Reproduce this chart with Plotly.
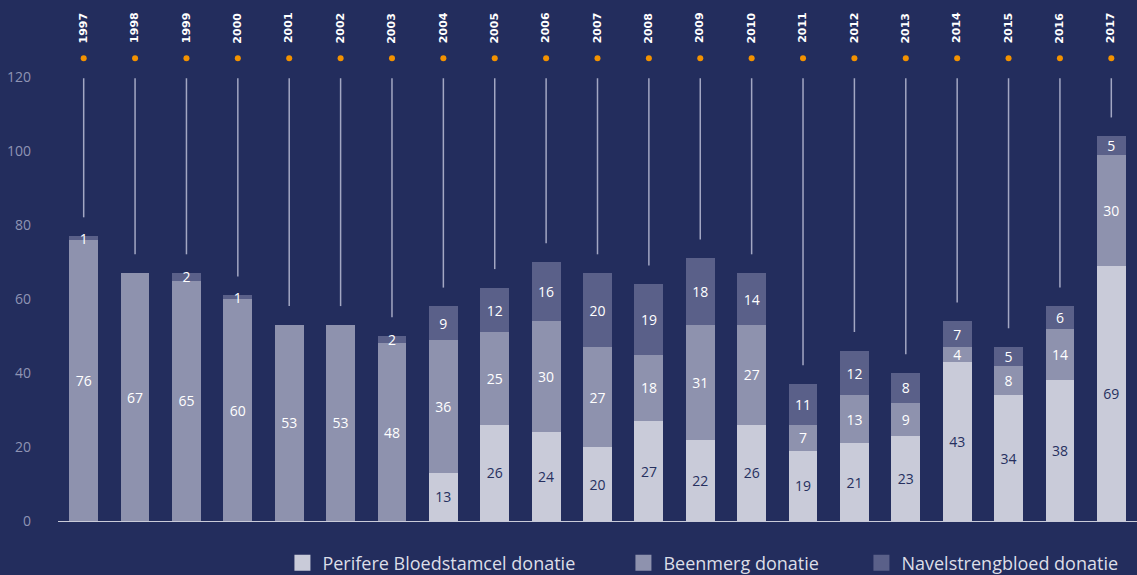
import plotly.graph_objects as go

years = [str(y) for y in range(1997, 2018)]
perifeer = [None, None, None, None, None, None, None, 13, 26, 24, 20, 27, 22, 26, 19, 21, 23, 43, 34, 38, 69]
beenmerg = [76, 67, 65, 60, 53, 53, 48, 36, 25, 30, 27, 18, 31, 27, 7, 13, 9, 4, 8, 14, 30]
navelstreng = [1, None, 2, 1, None, None, 2, 9, 12, 16, 20, 19, 18, 14, 11, 12, 8, 7, 5, 6, 5]

names = ["Perifere Bloedstamcel donatie", "Beenmerg donatie", "Navelstrengbloed donatie"]
colors = ["#c9cbd9", "#8e92ae", "#5a6089"]
label_colors = ["#26305f", "#ffffff", "#ffffff"]
legend_widths = [296, 193, 240]
bg = "#232d5d"

fig = go.Figure()

for name, vals, col, lcol in zip(names, [perifeer, beenmerg, navelstreng], colors, label_colors):
    fig.add_trace(
        go.Bar(
            x=years,
            y=vals,
            name=name,
            width=0.56,
            marker={"color": col, "line": {"width": 0}},
            text=[str(v) if v else "" for v in vals],
            textposition="inside",
            insidetextanchor="middle",
            textangle=0,
            textfont={"color": lcol, "size": 14, "family": "Open Sans"},
            showlegend=False,
        )
    )

# leader lines from the year markers down to just above each bar
totals = [sum(v or 0 for v in t) for t in zip(perifeer, beenmerg, navelstreng)]
lx, ly = [], []
for yr, tot in zip(years, totals):
    lx += [yr, yr, None]
    ly += [119.7, tot + 5.1, None]
fig.add_trace(go.Scatter(x=lx, y=ly, mode="lines", line={"color": "#a3a7c3", "width": 1.5},
                         showlegend=False, hoverinfo="skip"))

# orange dots
fig.add_trace(go.Scatter(x=years, y=[125.1] * len(years), mode="markers",
                         marker={"color": "#f39200", "size": 6}, showlegend=False,
                         hoverinfo="skip", cliponaxis=False))

# year labels (category index as x position)
for i, yr in enumerate(years):
    fig.add_annotation(x=i, y=128.6, text=f"<b>{yr}</b>", textangle=-90, showarrow=False,
                       xanchor="center", yanchor="bottom",
                       font={"family": "DejaVu Sans", "size": 11, "color": "#ffffff"})

# legend entries
for name, col, lw in zip(names, colors, legend_widths):
    fig.add_trace(go.Scatter(x=[None], y=[None], mode="markers", name=name, legendwidth=lw,
                             marker={"symbol": "square", "size": 16, "color": col}))

fig.update_layout(
    width=1137,
    height=575,
    paper_bgcolor=bg,
    plot_bgcolor=bg,
    barmode="stack",
    margin={"l": 58, "r": 0, "t": 5, "b": 54},
    uniformtext={"minsize": 14, "mode": "show"},
    xaxis={
        "type": "category",
        "range": [-0.5, 20.5],
        "showticklabels": False,
        "showgrid": False,
        "zeroline": False,
        "showline": True,
        "linecolor": "#c9cbd9",
        "linewidth": 1,
        "ticks": "",
    },
    yaxis={
        "range": [0, 139.5],
        "tickvals": [0, 20, 40, 60, 80, 100, 120],
        "showgrid": False,
        "zeroline": False,
        "tickfont": {"family": "Open Sans", "size": 14, "color": "#8f94b4"},
        "ticklabelstandoff": 26,
    },
    legend={
        "orientation": "h",
        "traceorder": "normal",
        "xref": "container",
        "x": 0.2484,
        "xanchor": "left",
        "yref": "container",
        "y": 0.021,
        "yanchor": "middle",
        "font": {"family": "Open Sans", "size": 18, "color": "#dcdee8"},
        "bgcolor": "rgba(0,0,0,0)",
    },
    showlegend=True,
)

fig.write_html("out.html", config={"displayModeBar": False},
               post_script="document.body.style.margin='0';")
